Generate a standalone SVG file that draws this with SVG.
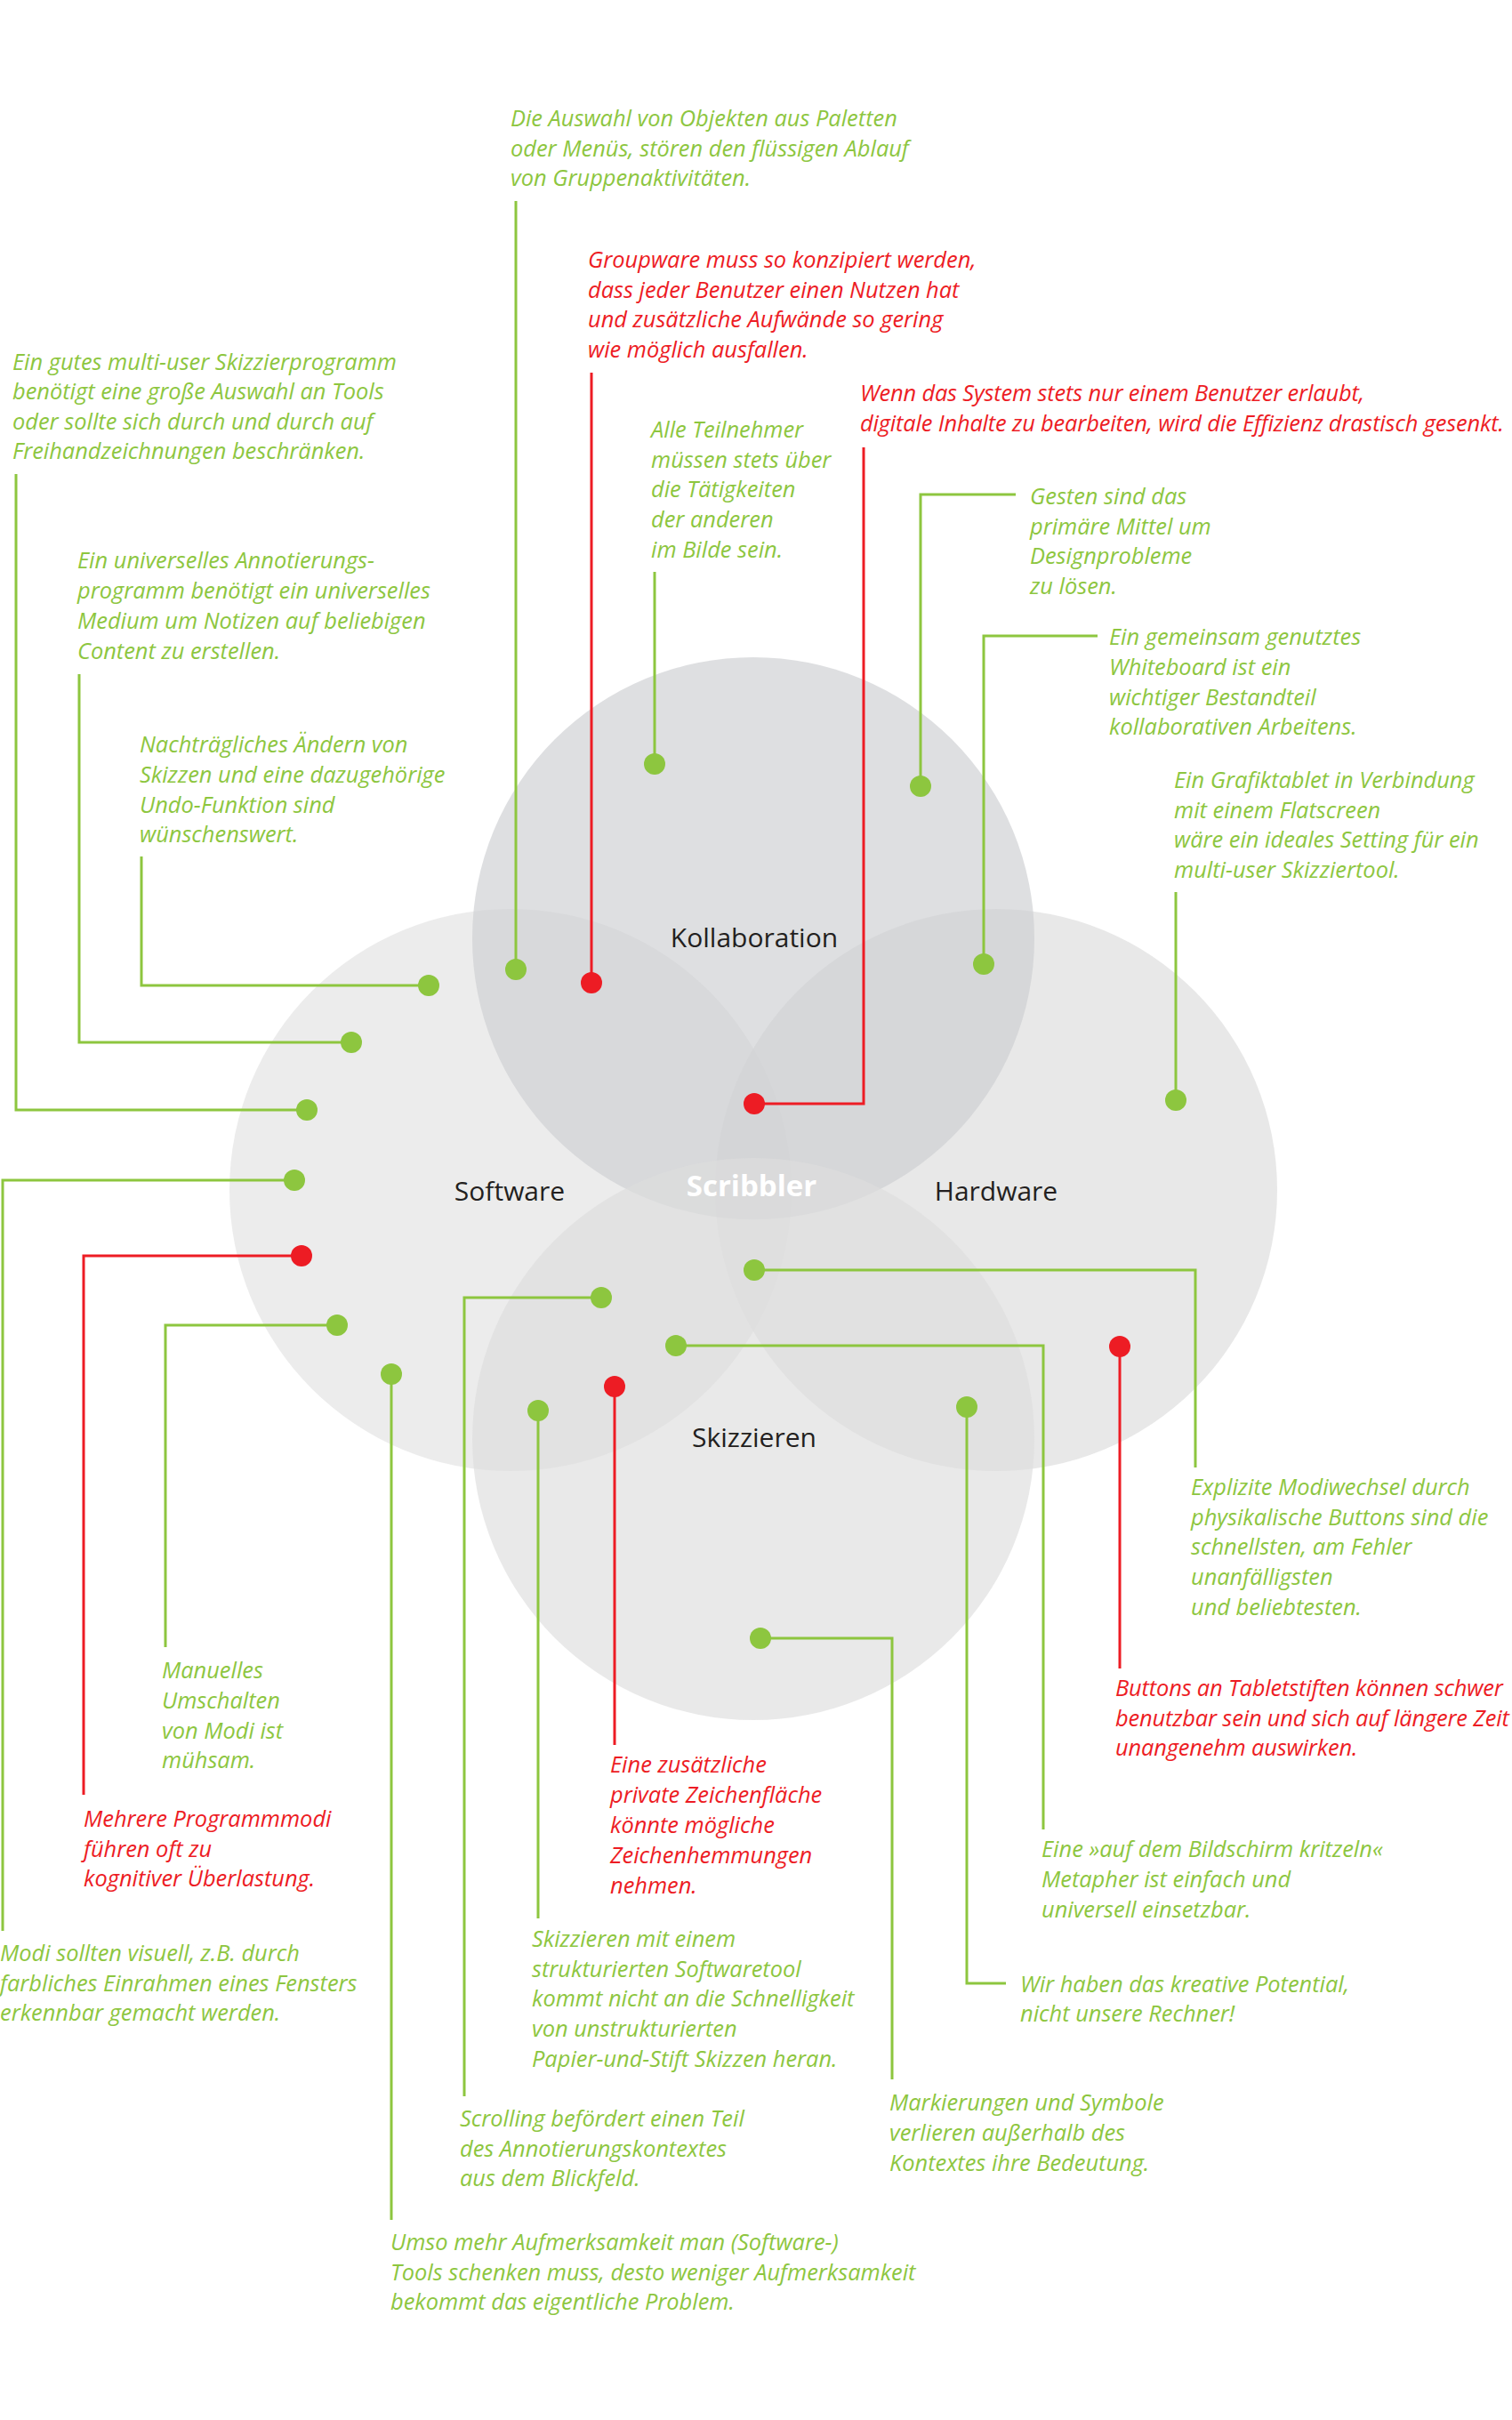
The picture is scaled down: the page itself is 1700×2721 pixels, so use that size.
<svg xmlns="http://www.w3.org/2000/svg" width="1700" height="2721" viewBox="0 0 1700 2721">
<style>
.n{font-family:"Open Sans","Noto Sans","DejaVu Sans",sans-serif;font-style:italic;font-size:25.4px;letter-spacing:0px}
.tight{letter-spacing:-0.15px}
.gt{fill:#8dc63f}
.rt{fill:#ed1c24}
.lbl{font-family:"Open Sans","Noto Sans",sans-serif;font-size:30px;fill:#231f20;text-anchor:middle}
.scr{font-family:"Open Sans","Noto Sans",sans-serif;font-weight:bold;font-size:33px;fill:#ffffff;text-anchor:middle}
.gl{fill:none;stroke:#8dc63f;stroke-width:3}
.rl{fill:none;stroke:#ed1c24;stroke-width:3}
.gd{fill:#8dc63f}
.rd{fill:#ed1c24}
</style>
<rect width="1700" height="2721" fill="#ffffff"/>
<g id="circles">
  <g id="software"><circle cx="574" cy="1338" r="316" fill="#e2e2e2" fill-opacity="0.65"/></g>
  <g id="hardware"><circle cx="1120" cy="1338" r="316" fill="#dcdcdc" fill-opacity="0.65"/></g>
  <g id="kollaboration"><circle cx="847" cy="1055" r="316" fill="#cdced2" fill-opacity="0.66"/></g>
  <g id="skizzieren"><circle cx="847" cy="1618" r="316" fill="#dddddd" fill-opacity="0.65"/></g>
</g>
<g id="labels">
  <text class="lbl" x="848" y="1065">Kollaboration</text>
  <text class="lbl" x="573" y="1350">Software</text>
  <text class="lbl" x="1120" y="1350">Hardware</text>
  <text class="lbl" x="848" y="1627">Skizzieren</text>
  <text class="scr" x="845" y="1345">Scribbler</text>
</g>
<g id="connectors">
  <polyline class="gl" points="580,226 580,1090"/>
  <polyline class="rl" points="665,419 665,1105"/>
  <polyline class="gl" points="18,533 18,1248 345,1248"/>
  <polyline class="rl" points="971,503 971,1241 848,1241"/>
  <polyline class="gl" points="736,643 736,859"/>
  <polyline class="gl" points="1142,556 1035,556 1035,884"/>
  <polyline class="gl" points="89,758 89,1172 395,1172"/>
  <polyline class="gl" points="1234,715 1106,715 1106,1084"/>
  <polyline class="gl" points="159,963 159,1108 482,1108"/>
  <polyline class="gl" points="1322,1003 1322,1237"/>
  <polyline class="gl" points="3,2171 3,1327 331,1327"/>
  <polyline class="rl" points="94,2018 94,1412 339,1412"/>
  <polyline class="gl" points="186,1852 186,1490 379,1490"/>
  <polyline class="gl" points="440,2496 440,1545"/>
  <polyline class="gl" points="522,2357 522,1459 676,1459"/>
  <polyline class="gl" points="605,2157 605,1586"/>
  <polyline class="rl" points="691,1962 691,1559"/>
  <polyline class="gl" points="1173,2057 1173,1513 760,1513"/>
  <polyline class="gl" points="1344,1650 1344,1428 848,1428"/>
  <polyline class="rl" points="1259,1876 1259,1514"/>
  <polyline class="gl" points="1131,2230 1087,2230 1087,1582"/>
  <polyline class="gl" points="1003,2338 1003,1842 855,1842"/>
  <circle class="gd" cx="580" cy="1090" r="12"/>
  <circle class="rd" cx="665" cy="1105" r="12"/>
  <circle class="gd" cx="345" cy="1248" r="12"/>
  <circle class="rd" cx="848" cy="1241" r="12"/>
  <circle class="gd" cx="736" cy="859" r="12"/>
  <circle class="gd" cx="1035" cy="884" r="12"/>
  <circle class="gd" cx="395" cy="1172" r="12"/>
  <circle class="gd" cx="1106" cy="1084" r="12"/>
  <circle class="gd" cx="482" cy="1108" r="12"/>
  <circle class="gd" cx="1322" cy="1237" r="12"/>
  <circle class="gd" cx="331" cy="1327" r="12"/>
  <circle class="rd" cx="339" cy="1412" r="12"/>
  <circle class="gd" cx="379" cy="1490" r="12"/>
  <circle class="gd" cx="440" cy="1545" r="12"/>
  <circle class="gd" cx="676" cy="1459" r="12"/>
  <circle class="gd" cx="605" cy="1586" r="12"/>
  <circle class="rd" cx="691" cy="1559" r="12"/>
  <circle class="gd" cx="760" cy="1513" r="12"/>
  <circle class="gd" cx="848" cy="1428" r="12"/>
  <circle class="rd" cx="1259" cy="1514" r="12"/>
  <circle class="gd" cx="1087" cy="1582" r="12"/>
  <circle class="gd" cx="855" cy="1842" r="12"/>
</g>
<g id="note-auswahl"><text class="n gt" x="574" y="142"><tspan x="574">Die Auswahl von Objekten aus Paletten</tspan><tspan x="574" dy="33.5">oder Menüs, stören den flüssigen Ablauf</tspan><tspan x="574" dy="33.5">von Gruppenaktivitäten.</tspan></text></g>
<g id="note-groupware"><text class="n rt" x="661" y="301"><tspan x="661">Groupware muss so konzipiert werden,</tspan><tspan x="661" dy="33.5">dass jeder Benutzer einen Nutzen hat</tspan><tspan x="661" dy="33.5">und zusätzliche Aufwände so gering</tspan><tspan x="661" dy="33.5">wie möglich ausfallen.</tspan></text></g>
<g id="note-gutes"><text class="n gt" x="14" y="416"><tspan x="14">Ein gutes multi-user Skizzierprogramm</tspan><tspan x="14" dy="33.3">benötigt eine große Auswahl an Tools</tspan><tspan x="14" dy="33.3">oder sollte sich durch und durch auf</tspan><tspan x="14" dy="33.3">Freihandzeichnungen beschränken.</tspan></text></g>
<g id="note-system"><text class="n rt tight" x="967" y="451"><tspan x="967">Wenn das System stets nur einem Benutzer erlaubt,</tspan><tspan x="967" dy="33.5">digitale Inhalte zu bearbeiten, wird die Effizienz drastisch gesenkt.</tspan></text></g>
<g id="note-teilnehmer"><text class="n gt" x="732" y="492"><tspan x="732">Alle Teilnehmer</tspan><tspan x="732" dy="33.7">müssen stets über</tspan><tspan x="732" dy="33.7">die Tätigkeiten</tspan><tspan x="732" dy="33.7">der anderen</tspan><tspan x="732" dy="33.7">im Bilde sein.</tspan></text></g>
<g id="note-gesten"><text class="n gt" x="1158" y="567"><tspan x="1158">Gesten sind das</tspan><tspan x="1158" dy="33.6">primäre Mittel um</tspan><tspan x="1158" dy="33.6">Designprobleme</tspan><tspan x="1158" dy="33.6">zu lösen.</tspan></text></g>
<g id="note-annotierung"><text class="n gt" x="87" y="639"><tspan x="87">Ein universelles Annotierungs-</tspan><tspan x="87" dy="34">programm benötigt ein universelles</tspan><tspan x="87" dy="34">Medium um Notizen auf beliebigen</tspan><tspan x="87" dy="34">Content zu erstellen.</tspan></text></g>
<g id="note-whiteboard"><text class="n gt" x="1247" y="725"><tspan x="1247">Ein gemeinsam genutztes</tspan><tspan x="1247" dy="33.8">Whiteboard ist ein</tspan><tspan x="1247" dy="33.8">wichtiger Bestandteil</tspan><tspan x="1247" dy="33.8">kollaborativen Arbeitens.</tspan></text></g>
<g id="note-undo"><text class="n gt" x="157" y="846"><tspan x="157">Nachträgliches Ändern von</tspan><tspan x="157" dy="33.8">Skizzen und eine dazugehörige</tspan><tspan x="157" dy="33.8">Undo-Funktion sind</tspan><tspan x="157" dy="33.8">wünschenswert.</tspan></text></g>
<g id="note-grafiktablet"><text class="n gt" x="1320" y="886"><tspan x="1320">Ein Grafiktablet in Verbindung</tspan><tspan x="1320" dy="33.6">mit einem Flatscreen</tspan><tspan x="1320" dy="33.6">wäre ein ideales Setting für ein</tspan><tspan x="1320" dy="33.6">multi-user Skizziertool.</tspan></text></g>
<g id="note-modiwechsel"><text class="n gt" x="1339" y="1681"><tspan x="1339">Explizite Modiwechsel durch</tspan><tspan x="1339" dy="33.7">physikalische Buttons sind die</tspan><tspan x="1339" dy="33.7">schnellsten, am Fehler</tspan><tspan x="1339" dy="33.7">unanfälligsten</tspan><tspan x="1339" dy="33.7">und beliebtesten.</tspan></text></g>
<g id="note-buttons"><text class="n rt tight" x="1254" y="1907"><tspan x="1254">Buttons an Tabletstiften können schwer</tspan><tspan x="1254" dy="33.6">benutzbar sein und sich auf längere Zeit</tspan><tspan x="1254" dy="33.6">unangenehm auswirken.</tspan></text></g>
<g id="note-manuelles"><text class="n gt" x="182" y="1887"><tspan x="182">Manuelles</tspan><tspan x="182" dy="33.8">Umschalten</tspan><tspan x="182" dy="33.8">von Modi ist</tspan><tspan x="182" dy="33.8">mühsam.</tspan></text></g>
<g id="note-programmmodi"><text class="n rt" x="94" y="2054"><tspan x="94">Mehrere Programmmodi</tspan><tspan x="94" dy="33.7">führen oft zu</tspan><tspan x="94" dy="33.7">kognitiver Überlastung.</tspan></text></g>
<g id="note-zeichenflaeche"><text class="n rt" x="686" y="1993"><tspan x="686">Eine zusätzliche</tspan><tspan x="686" dy="33.9">private Zeichenfläche</tspan><tspan x="686" dy="33.9">könnte mögliche</tspan><tspan x="686" dy="33.9">Zeichenhemmungen</tspan><tspan x="686" dy="33.9">nehmen.</tspan></text></g>
<g id="note-kritzeln"><text class="n gt" x="1171" y="2088"><tspan x="1171">Eine »auf dem Bildschirm kritzeln«</tspan><tspan x="1171" dy="34">Metapher ist einfach und</tspan><tspan x="1171" dy="34">universell einsetzbar.</tspan></text></g>
<g id="note-modi"><text class="n gt" x="0" y="2205"><tspan x="0">Modi sollten visuell, z.B. durch</tspan><tspan x="0" dy="33.7">farbliches Einrahmen eines Fensters</tspan><tspan x="0" dy="33.7">erkennbar gemacht werden.</tspan></text></g>
<g id="note-softwaretool"><text class="n gt" x="598" y="2189"><tspan x="598">Skizzieren mit einem</tspan><tspan x="598" dy="33.7">strukturierten Softwaretool</tspan><tspan x="598" dy="33.7">kommt nicht an die Schnelligkeit</tspan><tspan x="598" dy="33.7">von unstrukturierten</tspan><tspan x="598" dy="33.7">Papier-und-Stift Skizzen heran.</tspan></text></g>
<g id="note-potential"><text class="n gt" x="1147" y="2240"><tspan x="1147">Wir haben das kreative Potential,</tspan><tspan x="1147" dy="33">nicht unsere Rechner!</tspan></text></g>
<g id="note-scrolling"><text class="n gt" x="517" y="2391"><tspan x="517">Scrolling befördert einen Teil</tspan><tspan x="517" dy="33.7">des Annotierungskontextes</tspan><tspan x="517" dy="33.7">aus dem Blickfeld.</tspan></text></g>
<g id="note-markierungen"><text class="n gt" x="1000" y="2373"><tspan x="1000">Markierungen und Symbole</tspan><tspan x="1000" dy="34">verlieren außerhalb des</tspan><tspan x="1000" dy="34">Kontextes ihre Bedeutung.</tspan></text></g>
<g id="note-aufmerksamkeit"><text class="n gt" x="439" y="2530"><tspan x="439">Umso mehr Aufmerksamkeit man (Software-)</tspan><tspan x="439" dy="33.7">Tools schenken muss, desto weniger Aufmerksamkeit</tspan><tspan x="439" dy="33.7">bekommt das eigentliche Problem.</tspan></text></g>
</svg>
